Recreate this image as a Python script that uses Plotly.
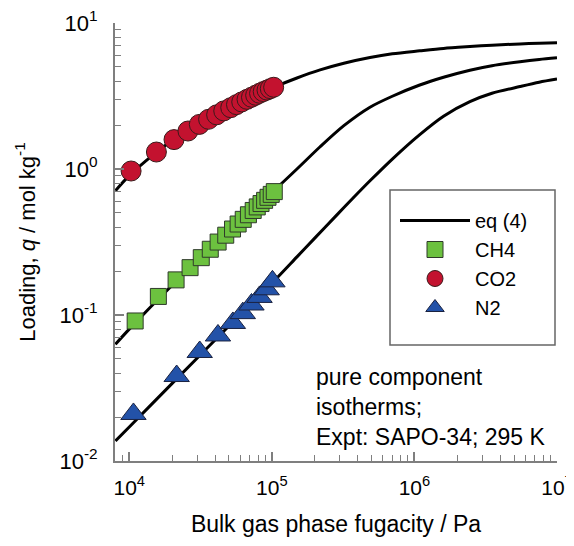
import plotly.graph_objects as go

# ---------------- data ----------------
# experimental points: fugacity / Pa, loading / mol kg-1
co2_f = [10300, 15500, 20600, 25800, 31000, 36000, 41000, 46000, 51500, 56500,
         61500, 67000, 72000, 77000, 82000, 87000, 92500, 97500, 103000]
co2_q = [0.969, 1.307, 1.59, 1.82, 2.02, 2.19, 2.35, 2.50, 2.63, 2.76,
         2.88, 3.00, 3.10, 3.20, 3.30, 3.39, 3.47, 3.55, 3.63]

ch4_f = [11000, 16000, 21300, 26700, 32000, 37000, 42000, 47500, 53000, 58000,
         63000, 68500, 74000, 79000, 84000, 89000, 94000, 99000, 104000]
ch4_q = [0.091, 0.134, 0.174, 0.211, 0.247, 0.282, 0.316, 0.352, 0.388, 0.420,
         0.452, 0.486, 0.520, 0.550, 0.580, 0.610, 0.640, 0.670, 0.700]

n2_f = [10700, 21500, 31200, 41900, 53300, 62600, 72000, 82000, 92000, 101000]
n2_q = [0.021, 0.0382, 0.0558, 0.0724, 0.0882, 0.103, 0.118, 0.133, 0.150, 0.170]

# eq (4) curves
co2_curve_f = [8e3, 1e4, 1.5e4, 2e4, 3e4, 5e4, 7e4, 1e5, 1.5e5, 2.18e5, 3.2e5, 4.88e5,
               7e5, 1.09e6, 1.6e6, 2.45e6, 3.5e6, 5.5e6, 7.5e6, 1e7]
co2_curve_q = [0.71, 0.90, 1.27, 1.57, 2.0, 2.62, 3.05, 3.58, 4.2, 4.77, 5.3, 5.8,
               6.15, 6.45, 6.7, 6.9, 7.05, 7.19, 7.27, 7.33]

ch4_curve_f = [8e3, 1e4, 2e4, 5e4, 1e5, 1.5e5, 2.18e5, 3.2e5, 4.88e5, 7e5, 1.09e6,
               1.6e6, 2.45e6, 3.5e6, 5.5e6, 7.5e6, 1e7]
ch4_curve_q = [0.063, 0.080, 0.160, 0.375, 0.69, 1.0, 1.42, 1.98, 2.65, 3.15, 3.76,
               4.25, 4.75, 5.1, 5.43, 5.63, 5.78]

n2_curve_f = [8e3, 1e4, 2e4, 5e4, 1e5, 1.5e5, 2e5, 2.85e5, 3.7e5, 4.88e5, 7e5, 1.09e6,
              1.6e6, 2.45e6, 3.5e6, 5.5e6, 7.5e6, 1e7]
n2_curve_q = [0.0137, 0.0171, 0.034, 0.084, 0.165, 0.25, 0.336, 0.483, 0.63, 0.83, 1.17,
              1.72, 2.3, 2.89, 3.3, 3.67, 3.93, 4.13]

x_tick_vals = [1e4, 1e5, 1e6, 1e7]
x_tick_text = ["10<sup>4</sup>", "10<sup>5</sup>", "10<sup>6</sup>", "10<sup>7</sup>"]
y_tick_vals = [0.01, 0.1, 1, 10]
y_tick_text = ["10<sup>-2</sup>", "10<sup>-1</sup>", "10<sup>0</sup>", "10<sup>1</sup>"]

# ---------------- figure ----------------
FONT = "Liberation Sans, Arial, sans-serif"
W, H = 574, 546
OFF = 8                  # page body has an 8 px default margin
L, R, T, B = 107, 25, 15, 93
PW, PH = W - L - R, H - T - B


def px(xpage):
    return (xpage - OFF - L) / PW


def py(ypage):
    return (H - B - (ypage - OFF)) / PH


fig = go.Figure()

curves = [(co2_curve_f, co2_curve_q), (ch4_curve_f, ch4_curve_q), (n2_curve_f, n2_curve_q)]
for i, (cf, cq) in enumerate(curves):
    fig.add_trace(go.Scatter(
        x=cf, y=cq, mode="lines", name="eq (4)",
        line=dict(color="black", width=3, shape="spline", smoothing=0.8),
        showlegend=(i == 0), legendgroup="eq", legendrank=1))

fig.add_trace(go.Scatter(
    x=ch4_f, y=ch4_q, mode="markers", name="CH4", legendgroup="ch4", legendrank=2,
    marker=dict(symbol="square", size=16, color="#6cc13f",
                line=dict(color="#2f3a2a", width=1))))
fig.add_trace(go.Scatter(
    x=co2_f, y=co2_q, mode="markers", name="CO2", legendgroup="co2", legendrank=3,
    marker=dict(symbol="circle", size=20, color="#c3122f",
                line=dict(color="#3a1a1a", width=1))))
fig.add_trace(go.Scatter(
    x=n2_f, y=n2_q, mode="markers", name="N2", legendgroup="n2", legendrank=4,
    marker=dict(symbol="triangle-up", size=22, color="#2352a8",
                line=dict(color="#1a2240", width=1))))

minor_x = [m * 10 ** e for e in range(3, 7) for m in range(2, 10) if 8e3 <= m * 10 ** e <= 1e7]
minor_y = [m * 10 ** e for e in range(-2, 1) for m in range(2, 10)]

axis_common = dict(
    type="log", showgrid=False, zeroline=False, automargin=False,
    showline=True, linecolor="#7f7f7f", linewidth=2,
    ticks="inside", ticklen=9, tickwidth=1.5, tickcolor="#7f7f7f",
    ticklabeloverflow="allow",
)

fig.update_layout(
    width=W, height=H,
    paper_bgcolor="white", plot_bgcolor="white",
    margin=dict(l=L, r=R, t=T, b=B),
    font=dict(family=FONT, color="black"),
    xaxis=dict(axis_common, range=[3.9, 7], tickmode="array",
               tickvals=x_tick_vals, ticktext=x_tick_text,
               tickfont=dict(family=FONT, size=21, color="black"),
               minor=dict(tickvals=minor_x, ticks="inside", ticklen=6,
                          tickcolor="#7f7f7f", tickwidth=1.2),
               ticklabelstandoff=7,
               title=dict(text="Bulk gas phase fugacity / Pa",
                          font=dict(family=FONT, size=23), standoff=18)),
    yaxis=dict(axis_common, range=[-2, 1], tickmode="array",
               tickvals=y_tick_vals, ticktext=y_tick_text,
               tickfont=dict(family=FONT, size=22, color="black"),
               minor=dict(tickvals=minor_y, ticks="inside", ticklen=6,
                          tickcolor="#7f7f7f", tickwidth=1.2),
               ticklabelstandoff=11,
               title=dict(text="Loading, <i>q</i> / mol kg<sup>-1</sup>",
                          font=dict(family=FONT, size=22), standoff=18)),
    legend=dict(x=px(395), y=py(201), xanchor="left", yanchor="top",
                bgcolor="rgba(0,0,0,0)", borderwidth=0,
                font=dict(family=FONT, size=20), tracegroupgap=15,
                itemwidth=70, traceorder="normal"),
    shapes=[dict(type="rect", xref="paper", yref="paper",
                 x0=px(390), x1=px(555), y0=py(345), y1=py(190),
                 line=dict(color="#666666", width=1.5), fillcolor="rgba(0,0,0,0)")],
    annotations=[dict(
        xref="paper", yref="paper", x=px(314), y=py(362),
        xanchor="left", yanchor="top", align="left", showarrow=False,
        text="pure component<br>isotherms;<br>Expt: SAPO-34; 295 K",
        font=dict(family=FONT, size=23, color="black"))],
)

fig.write_html("out.html")
